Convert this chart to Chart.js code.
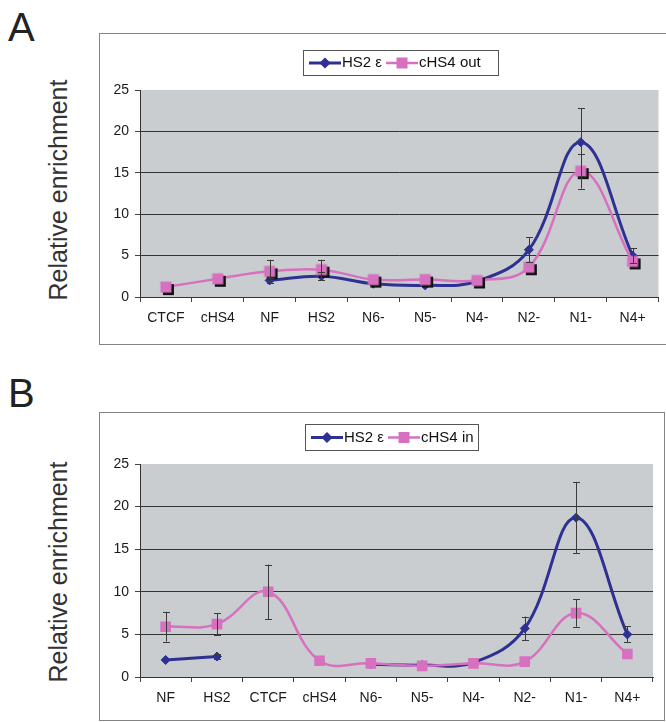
<!DOCTYPE html>
<html>
<head>
<meta charset="utf-8">
<script src="https://cdn.jsdelivr.net/npm/chart.js@4.4.1/dist/chart.umd.min.js"></script>
<style>
  body { margin: 0; background: #fff; width: 666px; height: 722px; position: relative; overflow: hidden;
         font-family: "Liberation Sans", Arial, sans-serif; }
  .letter { position: absolute; left: 8px; font-size: 40px; line-height: 1; color: #222; }
  .ylab { position: absolute; left: 58px; font-size: 25px; color: #333; white-space: nowrap;
          transform: translate(-50%, -50%) rotate(-90deg); }
  .box { position: absolute; border: 1.5px solid #858585; box-sizing: border-box; background: #fff; }
  canvas { position: absolute; }
</style>
</head>
<body>
<div class="letter" style="top:7px">A</div>
<div class="ylab" style="top:190px">Relative enrichment</div>
<div class="box" style="left:99px; top:33px; width:590px; height:312px"></div>
<canvas id="chartA" width="567" height="312" style="left:99px; top:33px"></canvas>

<div class="letter" style="top:373px">B</div>
<div class="ylab" style="top:572px">Relative enrichment</div>
<div class="box" style="left:99px; top:412px; width:566px; height:309px"></div>
<canvas id="chartB" width="565" height="310" style="left:99px; top:412px"></canvas>

<script>
// panel A
var labelsA = ['CTCF', 'cHS4', 'NF', 'HS2', 'N6-', 'N5-', 'N4-', 'N2-', 'N1-', 'N4+'];
var hs2A = [null, null, 2.0, 2.5, 1.6, 1.4, 1.9, 5.7, 18.7, 5.0];
var hs2AErr = [null, null, 0.3, 0.5, null, null, null, 1.5, 4.1, 0.9];
var outA = [1.2, 2.2, 3.1, 3.3, 2.1, 2.1, 2.0, 3.6, 15.2, 4.3];
var outAErr = [null, null, 1.4, 1.2, null, null, null, null, 2.1, null];

// panel B
var labelsB = ['NF', 'HS2', 'CTCF', 'cHS4', 'N6-', 'N5-', 'N4-', 'N2-', 'N1-', 'N4+'];
var hs2B = [2.0, 2.4, null, null, 1.5, 1.4, 1.7, 5.7, 18.7, 5.0];
var hs2BErr = [null, 0.3, null, null, null, null, null, 1.4, 4.2, 0.95];
var inB = [5.9, 6.2, 10.0, 1.9, 1.6, 1.3, 1.6, 1.8, 7.5, 2.7];
var inBErr = [1.75, 1.3, 3.2, null, null, null, null, null, 1.6, null];

var yTicks = [0, 5, 10, 15, 20, 25];

var BLUE = '#2e3192';
var PINK = '#d670bf';
var FONT = '"Liberation Sans", Arial, sans-serif';

// pink square with a black drop shadow (panel A markers)
function shadowSquare() {
    var c = document.createElement('canvas');
    c.width = 22; c.height = 22;
    var g = c.getContext('2d');
    g.fillStyle = '#111';
    g.fillRect(8, 8, 11, 11);
    g.fillStyle = PINK;
    g.fillRect(5.5, 5.5, 11, 11);
    return c;
}

var plotBg = {
    id: 'plotBg',
    beforeDraw: function (chart) {
        var a = chart.chartArea, ctx = chart.ctx;
        ctx.save();
        ctx.fillStyle = '#c9cdd0';
        ctx.fillRect(a.left, a.top, a.right - a.left, a.bottom - a.top);
        ctx.restore();
    }
};

var errorBars = {
    id: 'errorBars',
    afterDatasetsDraw: function (chart) {
        var ctx = chart.ctx, xs = chart.scales.x, ys = chart.scales.y;
        ctx.save();
        ctx.strokeStyle = '#3a3a3a';
        ctx.lineWidth = 1;
        chart.data.datasets.forEach(function (ds) {
            (ds.errors || []).forEach(function (e, i) {
                var v = ds.data[i];
                if (e == null || v == null) return;
                var x = Math.round(xs.getPixelForValue(i)) + 0.5;
                var y1 = ys.getPixelForValue(v - e), y2 = ys.getPixelForValue(v + e);
                ctx.beginPath();
                ctx.moveTo(x, y1); ctx.lineTo(x, y2);
                ctx.moveTo(x - 3.5, Math.round(y1) + 0.5); ctx.lineTo(x + 3.5, Math.round(y1) + 0.5);
                ctx.moveTo(x - 3.5, Math.round(y2) + 0.5); ctx.lineTo(x + 3.5, Math.round(y2) + 0.5);
                ctx.stroke();
            });
        });
        ctx.restore();
    }
};

var boxLegend = {
    id: 'boxLegend',
    afterDraw: function (chart, args, opts) {
        var ctx = chart.ctx;
        ctx.save();
        ctx.strokeStyle = '#555';
        ctx.lineWidth = 1;
        ctx.strokeRect(opts.x + 0.5, opts.y + 0.5, opts.w, opts.h);
        ctx.font = '15px ' + FONT;
        ctx.textBaseline = 'middle';
        var cy = opts.y + opts.h / 2 + 0.5;
        var x = opts.x + 6;
        chart.data.datasets.forEach(function (ds) {
            ctx.strokeStyle = ds.borderColor;
            ctx.lineWidth = ds.borderWidth;
            ctx.beginPath();
            ctx.moveTo(x, cy); ctx.lineTo(x + 32, cy);
            ctx.stroke();
            ctx.fillStyle = ds.borderColor;
            ctx.strokeStyle = ds.borderColor;
            Chart.helpers.drawPoint(ctx, {
                pointStyle: ds.legendStyle, radius: ds.legendRadius, rotation: 0, borderWidth: 1
            }, x + 16, cy);
            ctx.fillStyle = '#111';
            ctx.fillText(ds.label, x + 33, cy);
            x += 33 + ctx.measureText(ds.label).width + 4;
        });
        ctx.restore();
    }
};

function makeChart(id, labels, blue, blueErr, pink, pinkErr, pinkName, pinkStyle, pad, xH, legend) {
    return new Chart(document.getElementById(id), {
        type: 'line',
        data: {
            labels: labels,
            datasets: [{
                label: 'HS2 \u03b5',
                data: blue,
                errors: blueErr,
                order: 1,
                borderColor: BLUE,
                backgroundColor: BLUE,
                borderWidth: 3,
                tension: 0.4,
                spanGaps: false,
                pointStyle: 'rectRot',
                pointRadius: 4.5,
                pointBorderWidth: 1,
                legendStyle: 'rectRot',
                legendRadius: 3.5
            }, {
                label: pinkName,
                data: pink,
                errors: pinkErr,
                order: 0,
                borderColor: PINK,
                backgroundColor: PINK,
                borderWidth: 2.5,
                tension: 0.4,
                pointStyle: pinkStyle,
                pointRadius: 7.5,
                pointBorderWidth: 0,
                legendStyle: 'rect',
                legendRadius: 6
            }]
        },
        options: {
            responsive: false,
            animation: false,
            devicePixelRatio: 1,
            layout: { padding: pad },
            plugins: {
                legend: { display: false },
                tooltip: { enabled: false },
                boxLegend: legend
            },
            scales: {
                x: {
                    offset: true,
                    grid: { offset: true, drawOnChartArea: false, drawTicks: true, tickLength: 5, tickColor: '#444' },
                    border: { display: true, color: '#333', width: 1 },
                    ticks: { color: '#1a1a1a', font: { family: FONT, size: 14 }, padding: 8, maxRotation: 0, autoSkip: false },
                    afterFit: function (s) { s.height = xH; }
                },
                y: {
                    min: 0,
                    max: 25,
                    afterBuildTicks: function (s) {
                        s.ticks = yTicks.map(function (v) { return { value: v }; });
                    },
                    grid: {
                        color: function (c) { return c.tick && c.tick.value === 25 ? 'rgba(0,0,0,0)' : '#333'; },
                        tickColor: '#444',
                        tickLength: 5
                    },
                    border: { display: true, color: '#333', width: 1 },
                    ticks: { color: '#1a1a1a', font: { family: FONT, size: 14 }, padding: 6 },
                    afterFit: function (s) { s.width = 41; }
                }
            }
        },
        plugins: [plotBg, errorBars, boxLegend]
    });
}

makeChart('chartA', labelsA, hs2A, hs2AErr, outA, outAErr, 'cHS4 out', shadowSquare(),
    { left: 0, top: 57, right: 7, bottom: 0 }, 48, { x: 204, y: 17, w: 195, h: 25 });
makeChart('chartB', labelsB, hs2B, hs2BErr, inB, inBErr, 'cHS4 in', 'rect',
    { left: 0, top: 52, right: 11, bottom: 0 }, 45, { x: 206, y: 12, w: 173, h: 26 });
</script>
</body>
</html>
